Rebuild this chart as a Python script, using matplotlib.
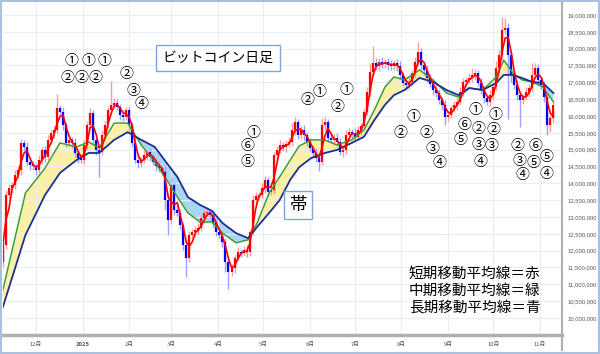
import numpy as np
import pandas as pd
import matplotlib
matplotlib.use('Agg')
import matplotlib.pyplot as plt
from matplotlib.ticker import FuncFormatter
from matplotlib.lines import Line2D
from matplotlib.patches import Rectangle

plt.rcParams['font.family'] = ['Noto Sans CJK JP', 'DejaVu Sans']

# ビットコイン日足 (2日ごとに読み取り, 単位: 万円)
start = '2024-11-09'
open0 = 1166
close = [1217, 1365, 1386, 1395, 1425, 1440, 1520, 1508, 1463, 1454,
         1451, 1440, 1469, 1499, 1478, 1529, 1549, 1558, 1624, 1612,
         1573, 1520, 1529, 1520, 1490, 1475, 1469, 1514, 1573, 1609,
         1529, 1499, 1493, 1543, 1573, 1618, 1633, 1639, 1627, 1603,
         1597, 1618, 1573, 1520, 1469, 1460, 1469, 1484, 1493, 1478,
         1463, 1451, 1445, 1434, 1350, 1291, 1395, 1321, 1312, 1276,
         1217, 1178, 1246, 1255, 1261, 1267, 1297, 1312, 1315, 1306,
         1282, 1255, 1246, 1226, 1166, 1136, 1148, 1178, 1196, 1193,
         1202, 1196, 1255, 1350, 1362, 1365, 1386, 1410, 1374, 1380,
         1484, 1499, 1514, 1508, 1517, 1523, 1558, 1582, 1543, 1558,
         1543, 1523, 1505, 1490, 1475, 1463, 1573, 1582, 1535, 1529,
         1535, 1523, 1493, 1499, 1543, 1552, 1549, 1538, 1558, 1570,
         1612, 1671, 1731, 1757, 1748, 1760, 1754, 1760, 1751, 1748,
         1757, 1748, 1722, 1698, 1692, 1701, 1728, 1760, 1790, 1751,
         1737, 1713, 1695, 1677, 1668, 1647, 1633, 1597, 1603, 1624,
         1633, 1642, 1671, 1701, 1707, 1713, 1722, 1728, 1698, 1677,
         1653, 1642, 1662, 1686, 1743, 1781, 1855, 1861, 1781, 1722,
         1692, 1662, 1647, 1656, 1671, 1683, 1722, 1743, 1707, 1692,
         1656, 1573, 1594, 1633]
up_wick = [10, 15, 12, 10, 15, 10, 12, 10, 15, 10,
           12, 10, 15, 10, 12, 15, 10, 12, 40, 10,
           15, 10, 12, 10, 15, 10, 12, 15, 10, 15,
           10, 12, 10, 15, 12, 10, 70, 15, 12, 10,
           15, 10, 12, 10, 15, 12, 10, 15, 10, 12,
           10, 12, 15, 10, 20, 15, 25, 10, 15, 12,
           10, 15, 12, 10, 12, 15, 10, 12, 15, 10,
           12, 10, 15, 12, 10, 15, 12, 10, 15, 10,
           12, 15, 10, 15, 12, 10, 15, 12, 10, 15,
           10, 12, 15, 10, 12, 15, 20, 15, 10, 12,
           15, 10, 12, 10, 15, 12, 20, 15, 10, 12,
           10, 15, 12, 10, 15, 12, 10, 15, 12, 10,
           12, 15, 25, 50, 15, 12, 15, 10, 12, 15,
           10, 12, 15, 10, 12, 15, 10, 15, 30, 12,
           10, 15, 12, 10, 15, 12, 10, 15, 12, 10,
           12, 10, 15, 12, 10, 15, 20, 12, 10, 15,
           12, 10, 15, 12, 20, 15, 40, 30, 15, 12,
           10, 15, 12, 10, 15, 12, 35, 15, 12, 10,
           12, 15, 10, 12]
low_wick = [15, 12, 10, 15, 12, 10, 15, 12, 10, 15,
            12, 15, 10, 12, 15, 10, 12, 15, 10, 12,
            15, 12, 10, 15, 12, 15, 10, 12, 15, 10,
            12, 15, 75, 10, 12, 10, 15, 12, 10, 15,
            12, 10, 15, 12, 10, 15, 12, 10, 15, 12,
            10, 15, 12, 10, 30, 45, 12, 15, 10, 12,
            15, 55, 12, 10, 15, 12, 10, 15, 12, 10,
            15, 12, 10, 15, 30, 50, 12, 15, 10, 12,
            10, 15, 12, 10, 15, 12, 10, 15, 12, 10,
            12, 15, 10, 12, 15, 10, 12, 15, 10, 12,
            15, 12, 10, 15, 12, 25, 10, 15, 12, 10,
            15, 12, 10, 15, 12, 10, 15, 12, 10, 15,
            12, 10, 15, 12, 10, 15, 12, 10, 15, 12,
            10, 15, 12, 10, 15, 12, 10, 15, 12, 10,
            15, 12, 10, 15, 12, 10, 15, 25, 12, 10,
            12, 15, 10, 12, 15, 10, 12, 15, 10, 12,
            15, 10, 12, 15, 10, 12, 15, 10, 190, 20,
            12, 15, 80, 12, 10, 15, 12, 10, 15, 12,
            15, 30, 20, 15]

# 中期・長期移動平均線 (チャートから読み取り, 万円)
ma_dates = ['2024-11-09', '2024-11-24', '2024-12-07', '2024-12-17', '2024-12-28',
            '2025-01-05', '2025-01-12', '2025-01-22', '2025-01-31', '2025-02-09',
            '2025-02-18', '2025-02-26', '2025-03-05', '2025-03-12', '2025-03-20',
            '2025-03-28', '2025-04-04', '2025-04-13', '2025-04-21', '2025-04-27',
            '2025-05-05', '2025-05-12', '2025-05-19', '2025-05-25', '2025-06-02',
            '2025-06-11', '2025-06-19', '2025-06-29', '2025-07-07', '2025-07-14',
            '2025-07-21', '2025-07-27', '2025-08-03', '2025-08-13', '2025-08-22',
            '2025-08-31', '2025-09-08', '2025-09-15', '2025-09-24', '2025-10-03',
            '2025-10-08', '2025-10-14', '2025-10-20', '2025-10-27', '2025-11-03',
            '2025-11-10']
ma_mid = [1083, 1371, 1445, 1520, 1508, 1523, 1505, 1579, 1579, 1514,
          1463, 1410, 1359, 1312, 1285, 1285, 1252, 1223, 1232, 1282,
          1371, 1419, 1469, 1511, 1529, 1529, 1514, 1529, 1558, 1618,
          1686, 1716, 1707, 1737, 1707, 1668, 1656, 1683, 1677, 1716,
          1766, 1728, 1707, 1701, 1686, 1642]
ma_long = [1032, 1246, 1365, 1431, 1469, 1490, 1490, 1529, 1552, 1529,
           1508, 1460, 1419, 1359, 1336, 1318, 1282, 1252, 1237, 1270,
           1312, 1350, 1410, 1448, 1475, 1490, 1499, 1520, 1538, 1588,
           1633, 1662, 1677, 1713, 1701, 1677, 1662, 1683, 1677, 1698,
           1722, 1722, 1713, 1701, 1698, 1668]

month_ticks = pd.date_range('2024-12-01', '2025-11-01', freq='MS')
month_labels = ['12月', '2025', '2月', '3月', '4月', '5月', '6月',
                '7月', '8月', '9月', '10月', '11月']
price_ticks = np.arange(10000000, 19000001, 500000)

notes = ['短期移動平均線＝赤', '中期移動平均線＝緑', '長期移動平均線＝青']

# ---- data prep ----
yen = 10000
c = np.array(close) * yen
o = np.r_[open0, close[:-1]] * yen
hi = np.maximum(o, c) + np.array(up_wick) * yen
lo = np.minimum(o, c) - np.array(low_wick) * yen
dates = pd.date_range(start, periods=len(c), freq='2D')
short_ma = pd.Series(c).rolling(3, min_periods=1).mean().values
mdt = pd.to_datetime(ma_dates)
mid = np.array(ma_mid) * yen
lng = np.array(ma_long) * yen

W, H = 600, 354
fig = plt.figure(figsize=(W / 100, H / 100), dpi=100)
ax = fig.add_axes([3 / W, 1 - 335 / H, 559 / W, 333 / H])

up = c >= o
ax.vlines(dates, lo, hi, colors=np.where(up, '#ff9c9c', '#a0a0ff'), lw=1, zorder=2)
ax.vlines(dates, o, c, colors=np.where(up, '#ff0000', '#0000ff'), lw=1.6, zorder=3)

ax.fill_between(mdt, mid, lng, where=mid >= lng, interpolate=True,
                color='#fbf0a8', lw=0, zorder=1)
ax.fill_between(mdt, mid, lng, where=mid < lng, interpolate=True,
                color='#a9d6f2', lw=0, zorder=1)
ax.plot(mdt, mid, color='#3f9f3a', lw=1.1, zorder=4)
ax.plot(mdt, lng, color='#1f2f8f', lw=1.3, zorder=4)
ax.plot(dates, short_ma, color='#ff0000', lw=1.2, zorder=5)

ax.set_xlim(pd.Timestamp('2024-12-01') - pd.Timedelta(days=21.9),
            pd.Timestamp('2024-12-01') + pd.Timedelta(days=349.7))
ax.set_ylim(9493000, 19386000)

ax.yaxis.tick_right()
ax.set_yticks(price_ticks)
ax.yaxis.set_major_formatter(FuncFormatter(lambda v, p: f'{v:,.0f}'))
ax.set_xticks(month_ticks)
ax.set_xticklabels(month_labels)
for lab in ax.get_yticklabels():
    lab.set_fontfamily(['Liberation Sans', 'DejaVu Sans'])
for lab in ax.get_xticklabels():
    if lab.get_text() == '2025':
        lab.set_fontweight('bold')
ax.tick_params(axis='both', length=0, labelsize=4.2, labelcolor='#555555')
ax.tick_params(axis='y', pad=4)
ax.tick_params(axis='x', pad=5)
ax.grid(True, color='#e8eef5', lw=0.8, zorder=0)

for s in ['left', 'top']:
    ax.spines[s].set_visible(False)
ax.spines['right'].set_color('#b0b0b0')
ax.spines['right'].set_linewidth(1.5)
ax.spines['bottom'].set_color('#b0b0b0')
ax.spines['bottom'].set_linewidth(2.5)

fig.add_artist(Line2D([562 / W, 562 / W], [0.01, 1 - 335 / H], color='#b0b0b0', lw=1.5))
fig.add_artist(Rectangle((0.002, 0.003), 0.996, 0.994, transform=fig.transFigure,
                         fill=False, ec='#a9c1de', lw=1.5))

def px(x, y):
    return x / W, 1 - y / H

# circled numbers on the chart
marks = [('①', 71, 61), ('①', 88, 61), ('①', 104, 61),
         ('②', 67, 78), ('②', 81, 78), ('②', 95, 78),
         ('②', 126, 74), ('③', 133, 91), ('④', 141, 104),
         ('①', 253, 133), ('⑥', 247, 146), ('⑤', 247, 162),
         ('②', 307, 100), ('①', 319, 92), ('①', 346, 90), ('②', 337, 107),
         ('②', 400, 133), ('①', 413, 117), ('②', 426, 133), ('③', 432, 149),
         ('④', 439, 163),
         ('①', 475, 110), ('⑥', 464, 125), ('②', 478, 129), ('⑤', 460, 140),
         ('③', 478, 145), ('④', 480, 162),
         ('①', 495, 115), ('②', 493, 130), ('③', 491, 146),
         ('②', 517, 146), ('③', 519, 161), ('④', 522, 175),
         ('⑥', 535, 146), ('⑤', 533, 163), ('⑤', 546, 157), ('④', 546, 174)]
for t, x, y in marks:
    fig.text(*px(x, y), t, ha='center', va='center', fontsize=10, color='black')

fig.text(*px(218, 58), 'ビットコイン日足', ha='center', va='center', fontsize=10,
         bbox=dict(boxstyle='square,pad=0.45', fc='white', ec='#7fa6d6', lw=1))
fig.text(*px(298, 205), '帯', ha='center', va='center', fontsize=12.5,
         bbox=dict(boxstyle='square,pad=0.3', fc='white', ec='#7fa6d6', lw=1))

for i, t in enumerate(notes):
    fig.text(*px(409, 274 + 17 * i), t, ha='left', va='center', fontsize=10.5,
             color='black')

fig.savefig('out.png', dpi=100)
